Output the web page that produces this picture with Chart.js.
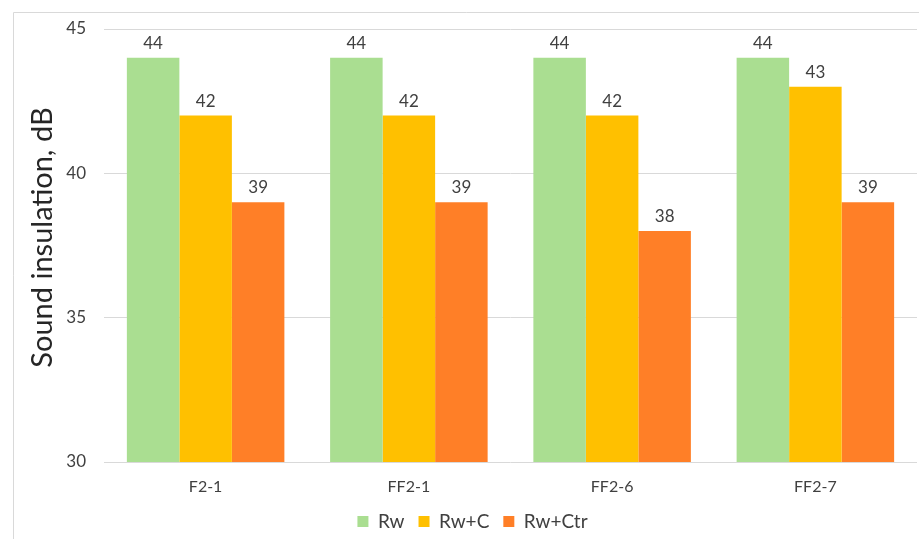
<!DOCTYPE html>
<html>
<head>
<meta charset="utf-8">
<script src="https://cdn.jsdelivr.net/npm/chart.js@4/dist/chart.umd.min.js"></script>
<style>
  html, body { margin: 0; padding: 0; background: #fff; }
  #wrap { width: 919px; height: 539px; position: relative; }
</style>
</head>
<body>
<div id="wrap"><canvas id="c" width="919" height="539"></canvas></div>
<script>
// Specimens and measured weighted sound reduction indices (dB)
const categories = ['F2-1', 'FF2-1', 'FF2-6', 'FF2-7'];
const rw = [44, 44, 44, 44];
const rwC = [42, 42, 42, 43];
const rwCtr = [39, 39, 38, 39];
const yTicks = [30, 35, 40, 45];
const yTitle = 'Sound insulation, dB';

const FONT = 'Lato, "Liberation Sans", sans-serif';
const TEXT = '#404040';

// Light frame around the chart (top and left edges)
const framePlugin = {
  id: 'frame',
  beforeDraw(chart) {
    const ctx = chart.ctx;
    ctx.save();
    ctx.strokeStyle = '#d9d9d9';
    ctx.lineWidth = 1;
    ctx.beginPath();
    ctx.moveTo(13.5, chart.height);
    ctx.lineTo(13.5, 12.5);
    ctx.lineTo(chart.width, 12.5);
    ctx.stroke();
    ctx.restore();
  }
};

// Rotated value-axis title, placed left of the tick labels
const axisTitle = {
  id: 'axisTitle',
  afterDraw(chart) {
    const ctx = chart.ctx;
    const area = chart.chartArea;
    ctx.save();
    ctx.font = '29px ' + FONT;
    ctx.fillStyle = '#262626';
    ctx.textAlign = 'center';
    ctx.textBaseline = 'middle';
    ctx.translate(43, (area.top + area.bottom) / 2 - 8);
    ctx.rotate(-Math.PI / 2);
    ctx.fillText(yTitle, 0, 0);
    ctx.restore();
  }
};

// Value labels above each bar
const valueLabels = {
  id: 'valueLabels',
  afterDatasetsDraw(chart) {
    const ctx = chart.ctx;
    ctx.save();
    ctx.font = '17px ' + FONT;
    ctx.fillStyle = TEXT;
    ctx.textAlign = 'center';
    ctx.textBaseline = 'bottom';
    chart.data.datasets.forEach((ds, i) => {
      chart.getDatasetMeta(i).data.forEach((bar, j) => {
        ctx.fillText(String(ds.data[j]), bar.x, bar.y - 6);
      });
    });
    ctx.restore();
  }
};

new Chart(document.getElementById('c'), {
  type: 'bar',
  data: {
    labels: categories,
    datasets: [
      { label: 'Rw', data: rw, backgroundColor: '#aade91' },
      { label: 'Rw+C', data: rwC, backgroundColor: '#ffc000' },
      { label: 'Rw+Ctr', data: rwCtr, backgroundColor: '#ff7f27' }
    ]
  },
  options: {
    responsive: false,
    animation: false,
    devicePixelRatio: 1,
    layout: { padding: { left: 28, right: 2, top: 29, bottom: -2 } },
    datasets: { bar: { categoryPercentage: 0.775, barPercentage: 1.0 } },
    plugins: {
      legend: {
        position: 'bottom',
        labels: {
          font: { family: FONT, size: 19 },
          color: TEXT,
          boxWidth: 11,
          boxHeight: 11,
          padding: 14
        }
      },
      tooltip: { enabled: false }
    },
    scales: {
      x: {
        grid: { display: false, drawTicks: false },
        border: { display: false },
        ticks: { font: { family: FONT, size: 16 }, color: TEXT, padding: 15 },
        afterFit(scale) { scale.height = 36; }
      },
      y: {
        min: 30,
        max: 45,
        afterBuildTicks(scale) { scale.ticks = yTicks.map(v => ({ value: v })); },
        grid: { color: '#d9d9d9', drawTicks: false },
        border: { display: false },
        ticks: { font: { family: FONT, size: 17 }, color: TEXT, padding: 18 },
        afterFit(scale) { scale.width = 76; }
      }
    }
  },
  plugins: [framePlugin, axisTitle, valueLabels]
});
</script>
</body>
</html>
